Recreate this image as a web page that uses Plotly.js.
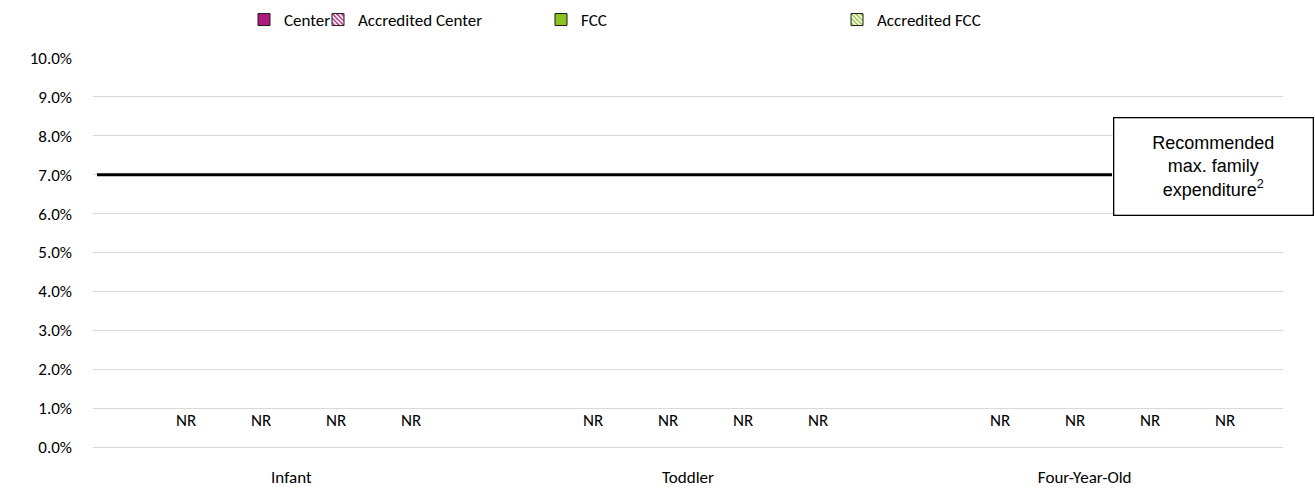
<!DOCTYPE html>
<html>
<head>
<meta charset="utf-8">
<script src="https://cdn.plot.ly/plotly-3.0.1.min.js"></script>
<style>html,body{margin:0;padding:0;background:#fff;}#chart{width:1315px;height:491px;}</style>
</head>
<body>
<div id="chart"></div>
<script>
// ---- data ----
const categories = ["Infant", "Toddler", "Four-Year-Old"];
const seriesNames = ["Center", "Accredited Center", "FCC", "Accredited FCC"];
// NR = not reported: no value for any series
const centerValues = [null, null, null];
const accreditedCenterValues = [null, null, null];
const fccValues = [null, null, null];
const accreditedFccValues = [null, null, null];
const centerLabels = ["NR", "NR", "NR"];
const accreditedCenterLabels = ["NR", "NR", "NR"];
const fccLabels = ["NR", "NR", "NR"];
const accreditedFccLabels = ["NR", "NR", "NR"];
const recommendedMax = 0.07;
const recommendedLabel = "Recommended<br>max. family<br>expenditure<sup>2</sup>";
const yTickValues = [0, 0.01, 0.02, 0.03, 0.04, 0.05, 0.06, 0.07, 0.08, 0.09, 0.10];

// ---- styles ----
const magenta = "#B0197E";
const green = "#8DC21F";
const font = "Carlito, Lato, 'Liberation Sans', sans-serif";
const fs = 17;
const barGap = 0.263;

const seriesValues = [centerValues, accreditedCenterValues, fccValues, accreditedFccValues];
const seriesLabels = [centerLabels, accreditedCenterLabels, fccLabels, accreditedFccLabels];
const seriesColors = [magenta, magenta, green, green];
const seriesPatterned = [false, true, false, true];
const legendIds = ["legend", "legend2", "legend3", "legend4"];

const data = seriesNames.map((name, j) => ({
  type: "bar",
  name: name,
  x: categories,
  y: seriesValues[j],
  legend: legendIds[j],
  marker: {
    color: seriesPatterned[j] ? "#ffffff" : seriesColors[j],
    line: {color: "#1a1a1a", width: 1},
    pattern: seriesPatterned[j]
      ? {shape: "\\", fgcolor: seriesColors[j], bgcolor: "#ffffff", size: 4, solidity: 0.45}
      : {shape: ""}
  },
  hoverinfo: "skip"
}));

// category axis carrying the group labels
data.push({
  type: "scatter", mode: "markers",
  x: categories.map((c, i) => i), y: categories.map(() => null),
  xaxis: "x2", yaxis: "y", showlegend: false, hoverinfo: "skip"
});

// NR labels sit at each bar slot of the grouped layout
const nSeries = seriesNames.length;
const slot = (1 - barGap) / nSeries;
const nrAnnotations = [];
seriesNames.forEach((name, j) => {
  categories.forEach((c, i) => {
    nrAnnotations.push({
      xref: "x", yref: "y",
      x: i + (j - (nSeries - 1) / 2) * slot,
      y: seriesValues[j][i] == null ? 0 : seriesValues[j][i],
      yshift: 27, yanchor: "middle", xanchor: "center",
      text: seriesLabels[j][i], showarrow: false,
      font: {family: font, size: fs, color: "#000"}
    });
  });
});

const L = 93, R = 32, W = 1315, H = 491;
const pw = W - L - R;
function px(xpx) { return (xpx - L) / pw; }
const legendBase = {orientation: "h", yref: "container", y: 1 - 20 / H, yanchor: "middle", xanchor: "left",
  font: {family: font, size: fs, color: "#000"}, bgcolor: "rgba(0,0,0,0)", itemwidth: 30, tracegroupgap: 0};

const layout = {
  width: W, height: H,
  margin: {l: L, r: R, t: 58, b: 44, pad: 0},
  paper_bgcolor: "#fff", plot_bgcolor: "#fff",
  barmode: "group",
  bargap: barGap,
  bargroupgap: 0,
  font: {family: font, size: fs, color: "#000"},
  showlegend: true,
  legend: Object.assign({}, legendBase, {x: px(244)}),
  legend2: Object.assign({}, legendBase, {x: px(318)}),
  legend3: Object.assign({}, legendBase, {x: px(541)}),
  legend4: Object.assign({}, legendBase, {x: px(837)}),
  xaxis: {
    type: "category",
    range: [-0.504, 2.42],
    showgrid: false, zeroline: false, showline: false,
    ticks: "", showticklabels: false
  },
  xaxis2: {
    overlaying: "x", anchor: "y", side: "bottom",
    type: "linear", range: [-0.5, 2.5],
    tickvals: categories.map((c, i) => i), ticktext: categories,
    showgrid: false, zeroline: false, showline: false,
    ticks: "", ticklabelstandoff: 18,
    tickfont: {family: font, size: fs, color: "#000"}
  },
  yaxis: {
    range: [0, 0.10],
    tickvals: yTickValues,
    tickformat: ".1%",
    showgrid: true, gridcolor: "#D9D9D9", gridwidth: 1,
    zeroline: true, zerolinecolor: "#D9D9D9", zerolinewidth: 1,
    showline: false, ticks: "", ticklabelstandoff: 20,
    tickfont: {family: font, size: fs, color: "#000"}
  },
  shapes: [{
    type: "line", xref: "paper", yref: "y",
    x0: px(97), x1: px(1112), y0: recommendedMax, y1: recommendedMax,
    line: {color: "#000", width: 3}, layer: "above"
  }],
  annotations: nrAnnotations.concat([{
    xref: "paper", yref: "paper",
    x: px(1213), y: (447 - 166) / (447 - 58), xanchor: "center", yanchor: "middle",
    text: recommendedLabel, showarrow: false,
    width: 198, height: 96, align: "center", valign: "middle",
    bgcolor: "#fff", bordercolor: "#000", borderwidth: 1.3, borderpad: 0,
    font: {family: "Liberation Sans, Arial, sans-serif", size: 18, color: "#000"}
  }])
};

Plotly.newPlot("chart", data, layout, {displayModeBar: false, staticPlot: true});
</script>
</body>
</html>
